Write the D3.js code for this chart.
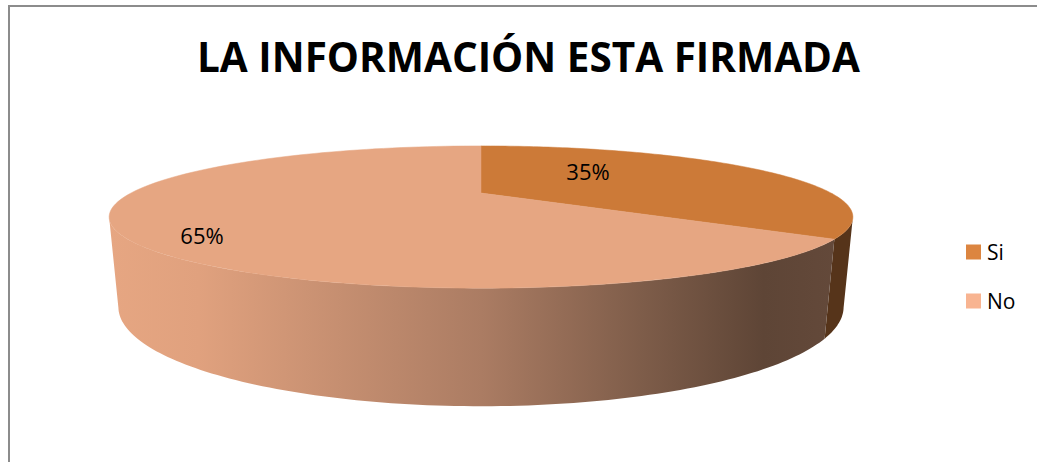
<!DOCTYPE html>
<html><head><meta charset="utf-8">
<script src="https://cdn.jsdelivr.net/npm/d3@7"></script>
<style>body{margin:0;background:#fff}svg{display:block}</style>
</head><body>
<svg id="c" width="1037" height="462"></svg>
<script>
const title = "LA INFORMACIÓN ESTA FIRMADA";
const categories = ["Si", "No"];
const values = [35, 65];
const topColors = ["#cc7a38", "#e6a682"];
const legendColors = ["#dc8540", "#f8b491"];

const svg = d3.select("#c");
const W = 1037, H = 462;

// chart border
svg.append("path").attr("d", `M9,${H} L9,6 L${W},6`).attr("fill", "none")
  .attr("stroke", "#8c8c8c").attr("stroke-width", 2);

// title
svg.append("text").attr("x", 197).attr("y", 72).text(title)
  .attr("font-family", "'Open Sans', sans-serif").attr("font-weight", 700)
  .attr("font-size", 42).attr("textLength", 663).attr("lengthAdjust", "spacingAndGlyphs")
  .attr("fill", "#000");

// perspective projection of the 3D pie
const cx = 481, cy = 193, A = 350, B = 63, P = 0.338, Hd = 83, Q = 0.0227;
function proj(theta, z, r = 1) {
  const u = r * Math.sin(theta), v = -r * Math.cos(theta);
  const w = 1 - P * v + Q * z;
  return [cx + A * u / w, cy + (B * v + Hd * z) / w];
}
const pie = d3.pie().sort(null).value(d => d)(values);
const TAU = 2 * Math.PI;
const thS = Math.acos(-P); // silhouette angle (right); left = TAU - thS

function arcPts(a0, a1, z, n = 120) {
  const pts = [];
  for (let i = 0; i <= n; i++) pts.push(proj(a0 + (a1 - a0) * i / n, z));
  return pts;
}
const line = d3.line();

// side gradient for the front wall
const defs = svg.append("defs");
const g = defs.append("linearGradient").attr("id", "sideNo")
  .attr("gradientUnits", "userSpaceOnUse").attr("x1", 110).attr("x2", 853).attr("y1", 0).attr("y2", 0);
[[0, "#e6a682"], [0.12, "#e0a17e"], [0.5, "#ab7c63"], [0.72, "#7d5c49"], [0.88, "#5e4536"], [1, "#654a3b"]]
  .forEach(([o, c]) => g.append("stop").attr("offset", o).attr("stop-color", c));

const sideFill = ["#56341a", "url(#sideNo)"];

// sides (front half only)
pie.forEach((d, i) => {
  const a0 = Math.max(d.startAngle, thS), a1 = Math.min(d.endAngle, TAU - thS);
  if (a1 <= a0) return;
  const topP = arcPts(a0, a1, 0), botP = arcPts(a1, a0, 1);
  svg.append("path").attr("d", line(topP.concat(botP)) + "Z").attr("fill", sideFill[i]);
});

// top faces
pie.forEach((d, i) => {
  const pts = [proj(0, 0, 0)].concat(arcPts(d.startAngle, d.endAngle, 0));
  svg.append("path").attr("d", line(pts) + "Z").attr("fill", topColors[i])
    .attr("stroke", topColors[i]).attr("stroke-width", 0.5);
});

// data labels
const labelPos = [[588, 180], [202, 244]];
pie.forEach((d, i) => {
  svg.append("text").attr("x", labelPos[i][0]).attr("y", labelPos[i][1])
    .attr("text-anchor", "middle").attr("font-family", "'Open Sans', sans-serif")
    .attr("font-size", 22).attr("fill", "#000").text(values[i] + "%");
});

// legend
const ly = d3.scalePoint().domain(categories).range([252, 301]);
categories.forEach((c, i) => {
  svg.append("rect").attr("x", 966).attr("y", ly(c) - 7.5).attr("width", 15).attr("height", 15)
    .attr("fill", legendColors[i]);
  svg.append("text").attr("x", 987).attr("y", ly(c) + 8).attr("font-family", "'Open Sans', sans-serif")
    .attr("font-size", 21).attr("fill", "#000").text(c);
});
</script>
</body></html>
